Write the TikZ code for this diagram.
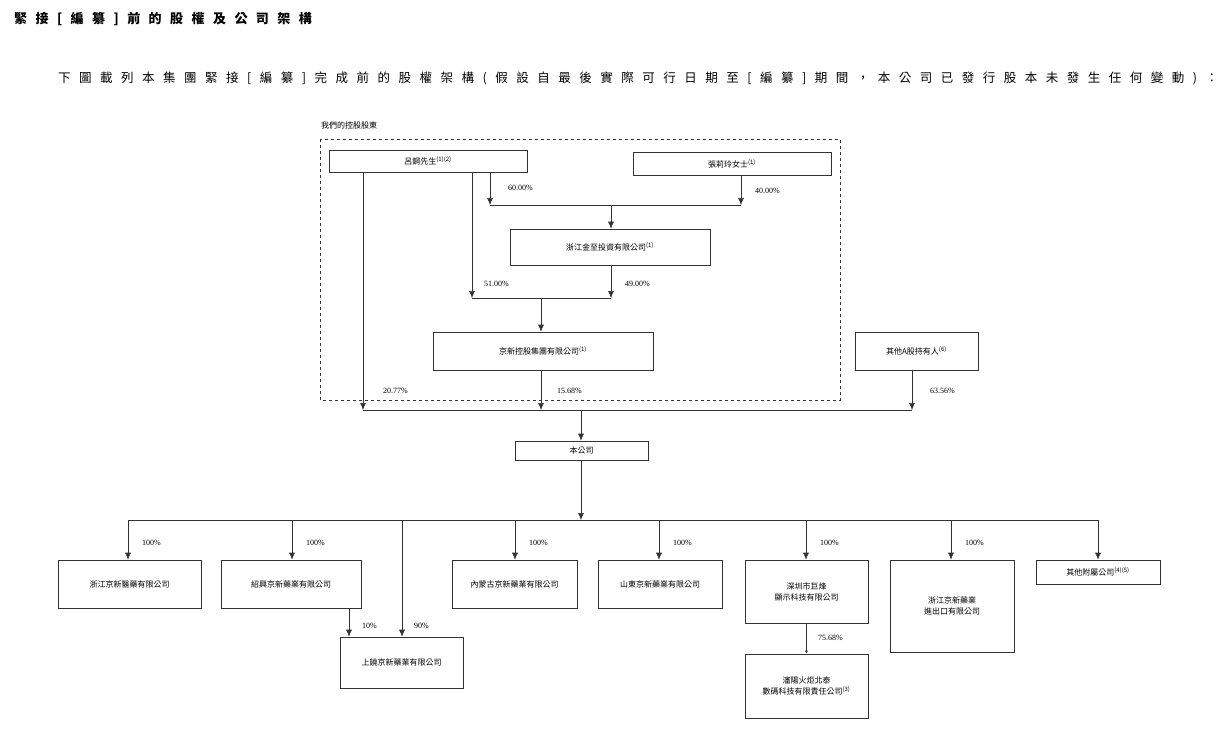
\documentclass[tikz,border=0pt]{standalone}
\usepackage{fontspec}
\setmainfont{Liberation Serif}
\newfontfamily\cjk{Noto Sans CJK TC}
\newfontfamily\cjkwide[LetterSpace=68]{Noto Sans CJK TC}
\newfontfamily\cjkhead[LetterSpace=65]{Noto Sans CJK TC}
\usetikzlibrary{arrows.meta}
\begin{document}
\begin{tikzpicture}[x=1pt,y=-1pt]
					\tikzstyle{cbox} = [draw=black!80,line width=0.6pt,inner sep=0pt,font=\cjk\fontsize{8}{11}\selectfont,align=center]
					\tikzstyle{pct} = [anchor=west,font=\fontsize{8}{10}\selectfont,inner sep=0pt]
					\tikzstyle{link} = [draw=black!80,line width=0.6pt]
					\tikzstyle{arr} = [link,-{Latex[length=7pt,width=6pt]}]
					\useasboundingbox (0,0) rectangle (1216,730);
					% heading
					\node[anchor=west,inner sep=0pt,font=\cjkhead\bfseries\fontsize{13}{15}\selectfont] (ttl) at (14,19) {緊接[編纂]前的股權及公司架構};
					\node[anchor=west,inner sep=0pt,font=\cjkwide\fontsize{12.5}{15}\selectfont] (intro) at (58,78) {下圖載列本集團緊接[編纂]完成前的股權架構(假設自最後實際可行日期至[編纂]期間，本公司已發行股本未發生任何變動)：};
					% controlling shareholders
					\node[anchor=west,inner sep=0pt,font=\cjk\itshape\fontsize{8}{10}\selectfont] (grp) at (321,125) {我們的控股股東};
					\draw[dashed,black!80,line width=0.6pt] (320,139) rectangle (840,400);
					\node[cbox,minimum width=198pt,minimum height=22pt] (lv) at (428,161) {呂鋼先生\textsuperscript{(1)(2)}};
					\node[cbox,minimum width=198pt,minimum height=23pt] (zl) at (732,163.5) {張莉玲女士\textsuperscript{(1)}};
					\node[cbox,minimum width=200pt,minimum height=36pt] (jz) at (610,247) {浙江金至投資有限公司\textsuperscript{(1)}};
					\node[cbox,minimum width=220pt,minimum height=38pt] (jx) at (543,351) {京新控股集團有限公司\textsuperscript{(1)}};
					\node[cbox,minimum width=123pt,minimum height=38pt] (oa) at (916.5,351) {其他A股持有人\textsuperscript{(6)}};
					\node[cbox,minimum width=133pt,minimum height=19pt] (co) at (581.5,450.5) {本公司};
					% subsidiaries
					\node[cbox,minimum width=143pt,minimum height=48pt] (s1) at (129.5,584) {浙江京新醫藥有限公司};
					\node[cbox,minimum width=140pt,minimum height=48pt] (s2) at (291,584) {紹興京新藥業有限公司};
					\node[cbox,minimum width=125pt,minimum height=48pt] (s3) at (514.5,584) {內蒙古京新藥業有限公司};
					\node[cbox,minimum width=124pt,minimum height=48pt] (s4) at (660,584) {山東京新藥業有限公司};
					\node[cbox,minimum width=123pt,minimum height=63pt] (s5) at (806.5,591.5) {深圳市巨烽\\顯示科技有限公司};
					\node[cbox,minimum width=124pt,minimum height=92pt] (s6) at (952,606) {浙江京新藥業\\進出口有限公司};
					\node[cbox,minimum width=124pt,minimum height=24pt] (s7) at (1098,572) {其他附屬公司\textsuperscript{(4)(5)}};
					\node[cbox,minimum width=123pt,minimum height=51pt] (sr) at (401.5,662.5) {上饒京新藥業有限公司};
					\node[cbox,minimum width=123pt,minimum height=64pt] (sy) at (806.5,686) {瀋陽火炬北泰\\數碼科技有限責任公司\textsuperscript{(3)}};
					% bus points
					\coordinate (b1l) at (490,205); \coordinate (b1r) at (741,205); \coordinate (b1m) at (611,205);
					\coordinate (b2l) at (472,298); \coordinate (b2r) at (611,298); \coordinate (b2m) at (541,298);
					\coordinate (b3l) at (363,410); \coordinate (b3r) at (912,410); \coordinate (b3m) at (581,410);
					\coordinate (b4l) at (128,520); \coordinate (b4r) at (1098,520); \coordinate (b4m) at (581,520);
					% upper links
					\draw[arr] (lv.south -| b1l) -- (b1l);
					\draw[arr] (zl.south -| b1r) -- (b1r);
					\draw[link] (b1l) -- (b1r);
					\draw[arr] (b1m) -- (jz.north -| b1m);
					\draw[arr] (lv.south -| b2l) -- (b2l);
					\draw[arr] (jz.south -| b2r) -- (b2r);
					\draw[link] (b2l) -- (b2r);
					\draw[arr] (b2m) -- (jx.north -| b2m);
					\draw[arr] (lv.south -| b3l) -- (b3l);
					\draw[arr] (jx.south -| 541,0) -- (541,410);
					\draw[arr] (oa.south -| b3r) -- (b3r);
					\draw[link] (b3l) -- (b3r);
					\draw[arr] (b3m) -- (co.north -| b3m);
					\draw[arr] (co.south -| b4m) -- (b4m);
					\draw[link] (b4l) -- (b4r);
					\foreach \s/\x in {s1/128,s2/292,s3/515,s4/659,s5/806,s6/951,s7/1098}
						{\draw[arr] (\x,520) -- (\s.north -| \x,0);
						 \ifnum\x<1000 \node[pct] at (\x+14,543) {100\%};\fi}
					\draw[arr] (402,520) -- (sr.north -| 402,0);
					\draw[arr] (s2.south -| 349,0) -- (sr.north -| 349,0);
					\draw[link,-{Latex[length=3pt,width=3pt]}] (s5) -- (sy);
					% percentages
					\node[pct] at (508,188) {60.00\%};
					\node[pct] at (755,191) {40.00\%};
					\node[pct] at (484,284) {51.00\%};
					\node[pct] at (625,284) {49.00\%};
					\node[pct] at (383,391) {20.77\%};
					\node[pct] at (557,391) {15.68\%};
					\node[pct] at (930,391) {63.56\%};
					\node[pct] at (362,626) {10\%};
					\node[pct] at (414,626) {90\%};
					\node[pct] at (818,638) {75.68\%};
\end{tikzpicture}
\end{document}
